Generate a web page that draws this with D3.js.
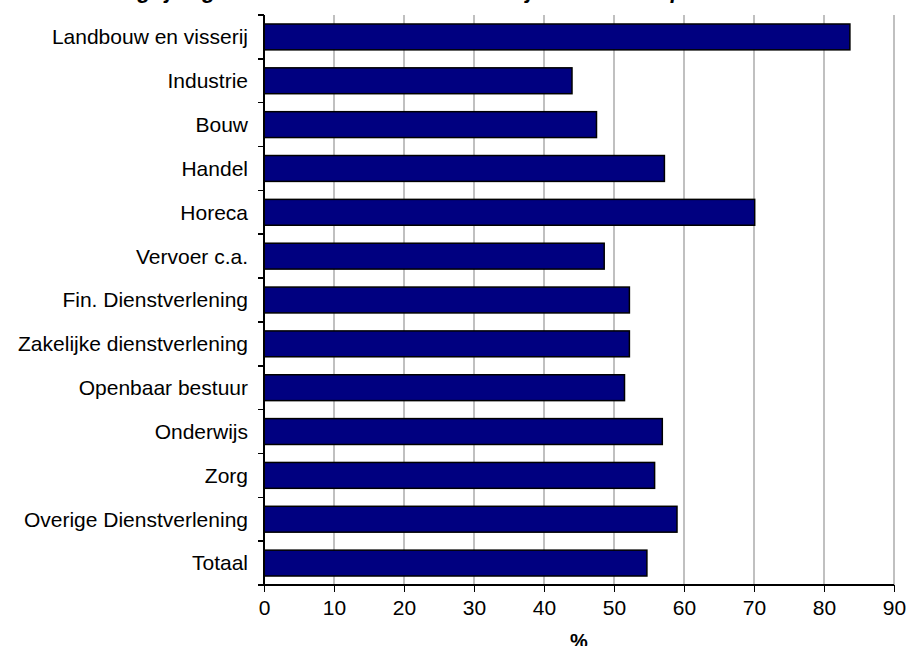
<!DOCTYPE html>
<meta charset="utf-8">
<head>
  <style>
    body { margin: 0; background: #fff; }
    svg { display: block; }
    .axis text { font-family: "Liberation Sans", Arial, sans-serif; font-size: 21px; fill: #000; }
    .axis path, .axis line { stroke: #000; stroke-width: 1.5; shape-rendering: crispEdges; }
    .grid line { stroke: #c0c0c0; stroke-width: 2; }
    .bar { fill: #000080; stroke: #000; stroke-width: 1.5; }
  </style>
</head>
<body>
  <script src="https://d3js.org/d3.v7.min.js"></script>
  <script>
    // sectoren en percentages
    var sectors = ["Landbouw en visserij", "Industrie", "Bouw", "Handel", "Horeca",
      "Vervoer c.a.", "Fin. Dienstverlening", "Zakelijke dienstverlening",
      "Openbaar bestuur", "Onderwijs", "Zorg", "Overige Dienstverlening", "Totaal"];
    var values = [83.7, 44.0, 47.5, 57.2, 70.1, 48.6, 52.2, 52.2, 51.5, 56.9, 55.8, 59.0, 54.7];
    var xTicks = [0, 10, 20, 30, 40, 50, 60, 70, 80, 90];

    var margin = { top: 15, right: 14, bottom: 61, left: 264 },
      width = 908 - margin.left - margin.right,
      height = 646 - margin.top - margin.bottom;

    var svg = d3.select("body").append("svg")
      .attr("width", 908)
      .attr("height", 646);

    // title (cut off at top, like the original)
    svg.append("text")
      .attr("x", 440)
      .attr("y", -2.5)
      .attr("text-anchor", "middle")
      .style("font-family", "Liberation Sans, Arial, sans-serif")
      .style("font-size", "22px")
      .style("font-weight", "bold")
      .style("font-style", "italic")
      .text("Vergrijzing: aandeel werknemers van 50 jaar en ouder per sector");

    var g = svg.append("g")
      .attr("transform", "translate(" + margin.left + "," + margin.top + ")");

    var x = d3.scaleLinear()
      .domain([0, 90])
      .range([0, width]);

    var y = d3.scaleBand()
      .domain(sectors)
      .range([0, height])
      .paddingInner(0.41)
      .paddingOuter(0.205);

    // gridlines
    g.append("g")
      .attr("class", "grid")
      .selectAll("line")
      .data(xTicks.slice(1))
      .enter().append("line")
      .attr("x1", d => x(d))
      .attr("x2", d => x(d))
      .attr("y1", 0)
      .attr("y2", height);

    // bars
    g.selectAll(".bar")
      .data(values)
      .enter().append("rect")
      .attr("class", "bar")
      .attr("x", 0)
      .attr("y", (d, i) => y(sectors[i]))
      .attr("width", d => x(d))
      .attr("height", y.bandwidth());

    // x axis
    var xAxis = g.append("g")
      .attr("class", "x axis")
      .attr("transform", "translate(0," + height + ")")
      .call(d3.axisBottom(x).tickValues(xTicks).tickSize(7).tickSizeOuter(0).tickPadding(8));
    xAxis.select(".domain").attr("d", "M0,0H" + width);

    // y axis, ticks between categories
    var yAxis = g.append("g").attr("class", "y axis");
    yAxis.append("line")
      .attr("x1", 0).attr("x2", 0)
      .attr("y1", 0).attr("y2", height);
    var step = y.step();
    yAxis.selectAll(".sep")
      .data(d3.range(sectors.length + 1))
      .enter().append("line")
      .attr("x1", -6).attr("x2", 0)
      .attr("y1", i => i * step)
      .attr("y2", i => i * step);
    yAxis.selectAll(".lab")
      .data(sectors)
      .enter().append("text")
      .attr("x", -16)
      .attr("y", d => y(d) + y.bandwidth() / 2)
      .attr("dy", "0.35em")
      .attr("text-anchor", "end")
      .text(d => d);

    // x label
    svg.append("text")
      .attr("x", margin.left + x(45))
      .attr("y", 648)
      .attr("text-anchor", "middle")
      .style("font-family", "Liberation Sans, Arial, sans-serif")
      .style("font-size", "20px")
      .style("font-weight", "bold")
      .text("%");
  </script>
</body>
